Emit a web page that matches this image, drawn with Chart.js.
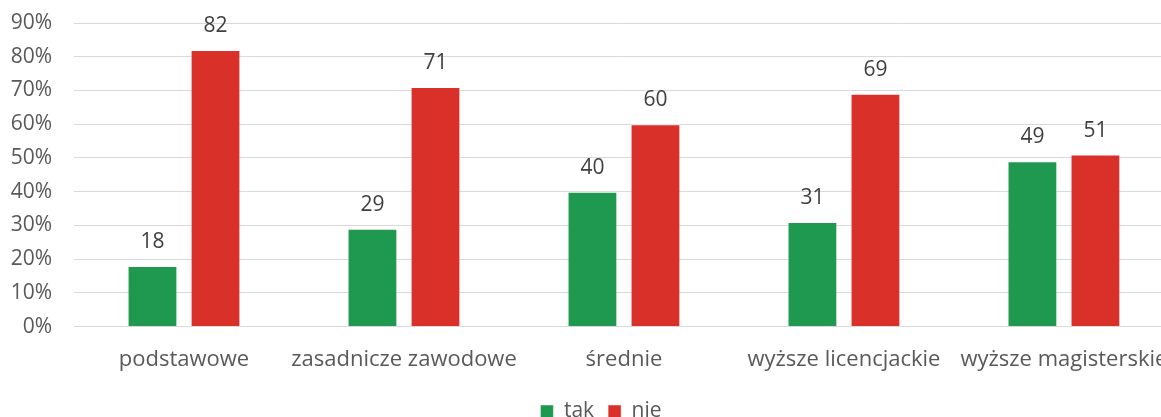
<!DOCTYPE html>
<html>
<head>
<meta charset="utf-8">
<script src="https://cdn.jsdelivr.net/npm/chart.js@4.5.0"></script>
<style>
  html, body { margin: 0; padding: 0; background: #fff; overflow: hidden; }
  #wrap { position: absolute; left: 0; top: 0; width: 1180px; height: 430px; }
</style>
</head>
<body>
<div id="wrap"><canvas id="chart"></canvas></div>
<script>
const categories = ["podstawowe", "zasadnicze zawodowe", "średnie", "wyższe licencjackie", "wyższe magisterskie"];
const takValues = [18, 29, 40, 31, 49];
const nieValues = [82, 71, 60, 69, 51];
const seriesNames = ["tak", "nie"];

const FONT = "'Open Sans', sans-serif";

// labels above the bars
const valueLabels = {
    id: 'valueLabels',
    afterDatasetsDraw(chart) {
        const ctx = chart.ctx;
        ctx.save();
        ctx.font = "21px " + FONT;
        ctx.fillStyle = "#404040";
        ctx.textAlign = "center";
        ctx.textBaseline = "middle";
        chart.data.datasets.forEach((ds, i) => {
            chart.getDatasetMeta(i).data.forEach((bar, j) => {
                ctx.fillText(String(ds.data[j]), bar.x, bar.y - 24);
            });
        });
        ctx.restore();
    }
};

// nudge the legend a little right / down, as in the original
const legendShift = {
    id: 'legendShift',
    afterLayout(chart) {
        const lg = chart.legend;
        if (!lg) return;
        lg.left += 14; lg.right += 14;
        lg.top += 2; lg.bottom += 2;
    }
};

new Chart(document.getElementById('chart'), {
    type: 'bar',
    data: {
        labels: categories,
        datasets: [
            {
                label: seriesNames[0],
                data: takValues,
                backgroundColor: "#1f9950",
                borderColor: "rgba(255,255,255,0.45)",
                borderWidth: 1
            },
            {
                label: seriesNames[1],
                data: nieValues,
                backgroundColor: "#d9302a",
                borderColor: "rgba(255,255,255,0.45)",
                borderWidth: 1
            }
        ]
    },
    options: {
        responsive: true,
        maintainAspectRatio: false,
        animation: false,
        layout: { padding: { top: 23, right: 6, left: 0, bottom: 0 } },
        datasets: {
            bar: { categoryPercentage: 0.573, barPercentage: 0.79 }
        },
        scales: {
            x: {
                grid: { display: false },
                border: { color: "#d9d9d9" },
                ticks: {
                    color: "#595959",
                    font: { family: FONT, size: 22 },
                    maxRotation: 0,
                    autoSkip: false,
                    padding: 12
                }
            },
            y: {
                min: 0,
                max: 90,
                afterFit(scale) {
                    scale.width = 74;
                    scale.paddingTop = 0;
                },
                grid: { color: "#d9d9d9", drawTicks: false },
                border: { display: false },
                ticks: {
                    stepSize: 10,
                    padding: 22,
                    color: "#595959",
                    font: { family: FONT, size: 21 },
                    callback: v => v + "%"
                }
            }
        },
        plugins: {
            tooltip: { enabled: false },
            legend: {
                position: 'bottom',
                labels: {
                    boxWidth: 13,
                    boxHeight: 13,
                    padding: 14,
                    color: "#595959",
                    font: { family: FONT, size: 21 }
                }
            }
        }
    },
    plugins: [valueLabels, legendShift]
});
</script>
</body>
</html>
